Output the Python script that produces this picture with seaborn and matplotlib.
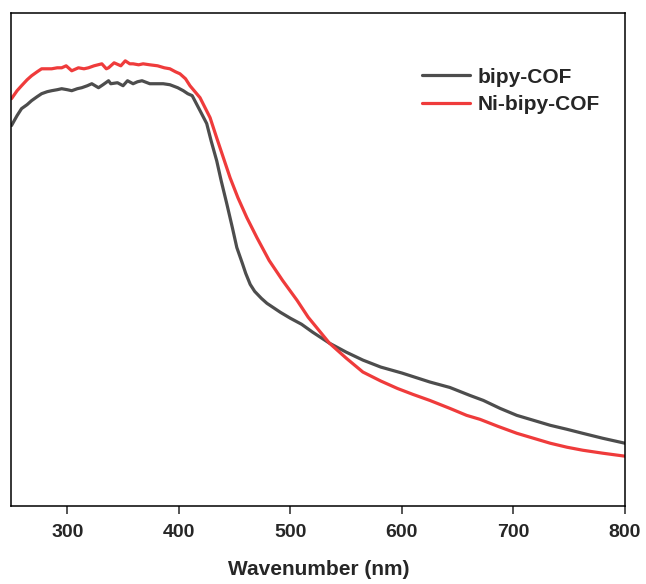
import numpy as np
import pandas as pd
import matplotlib
matplotlib.use("Agg")
import matplotlib.pyplot as plt
import seaborn as sns

# ---- data (arbitrary absorbance units) ----
bipy_x = [250, 255, 259, 264, 268, 273, 277, 282, 286, 291, 295, 300, 304, 309, 313,
          318, 322, 328, 332, 337, 339, 345, 350, 354, 359, 363, 367, 374, 380, 386,
          392, 399, 404, 408, 412, 419, 425, 429, 434, 438, 443, 448, 452, 457, 460,
          464, 468, 474, 479, 491, 500, 510, 520, 535, 550, 565, 581, 600, 625, 643,
          661, 673, 688, 703, 718, 733, 748, 762, 780, 800]
bipy_y = [0.774, 0.794, 0.808, 0.816, 0.824, 0.832, 0.838, 0.842, 0.844, 0.846, 0.848,
          0.846, 0.844, 0.848, 0.850, 0.854, 0.858, 0.850, 0.856, 0.864, 0.858, 0.860,
          0.854, 0.864, 0.858, 0.862, 0.864, 0.858, 0.858, 0.858, 0.856, 0.850, 0.844,
          0.838, 0.834, 0.804, 0.778, 0.743, 0.703, 0.663, 0.617, 0.569, 0.529, 0.497,
          0.477, 0.455, 0.441, 0.427, 0.417, 0.399, 0.387, 0.375, 0.359, 0.337, 0.319,
          0.303, 0.289, 0.277, 0.259, 0.248, 0.232, 0.222, 0.206, 0.192, 0.182, 0.172,
          0.164, 0.156, 0.146, 0.136]

ni_x = [250, 255, 259, 264, 268, 273, 277, 282, 286, 291, 295, 299, 304, 310, 315,
        319, 324, 331, 335, 337, 342, 348, 352, 356, 359, 364, 368, 374, 381, 387,
        392, 397, 401, 406, 410, 419, 428, 434, 440, 446, 453, 461, 470, 481, 493,
        506, 516, 535, 550, 565, 581, 596, 610, 625, 643,
        658, 670, 686, 703, 718, 733, 748, 762, 780, 800]
ni_y = [0.828, 0.844, 0.854, 0.866, 0.874, 0.882, 0.888, 0.888, 0.888, 0.890, 0.890,
        0.894, 0.884, 0.890, 0.888, 0.890, 0.894, 0.898, 0.888, 0.890, 0.900, 0.894,
        0.904, 0.898, 0.898, 0.896, 0.898, 0.896, 0.894, 0.890, 0.888, 0.882, 0.878,
        0.868, 0.854, 0.830, 0.790, 0.749, 0.709, 0.669, 0.629, 0.589, 0.549, 0.503,
        0.463, 0.423, 0.389, 0.337, 0.307, 0.279, 0.261, 0.246, 0.234, 0.222, 0.206,
        0.192, 0.184, 0.170, 0.156, 0.146, 0.136, 0.128, 0.122, 0.116, 0.110]

series_names = ["bipy-COF", "Ni-bipy-COF"]
series_colors = ["#4d4d4d", "#ef3b3b"]
x_ticks = [300, 400, 500, 600, 700, 800]
x_label = "Wavenumber (nm)"

df = pd.concat([
    pd.DataFrame({"x": bipy_x, "y": bipy_y, "sample": series_names[0]}),
    pd.DataFrame({"x": ni_x, "y": ni_y, "sample": series_names[1]}),
], ignore_index=True)

sns.set_style("ticks")
plt.rcParams["font.family"] = ["Liberation Sans", "DejaVu Sans"]
plt.rcParams["font.weight"] = "bold"

fig = plt.figure(figsize=(6.46, 5.84), dpi=100)
ax = fig.add_axes([0.0178, 0.1336, 0.9497, 0.8441])

sns.lineplot(data=df, x="x", y="y", hue="sample", hue_order=series_names,
             palette=series_colors, linewidth=2.3, sort=False, estimator=None,
             ax=ax)
for ln in ax.get_lines():
    ln.set_solid_joinstyle("round")
    ln.set_solid_capstyle("round")

ax.set_xlim(250, 800)
ax.set_ylim(0.010, 1.0)
ax.set_xticks(x_ticks)
ax.set_xticklabels([str(t) for t in x_ticks], fontsize=14, fontweight="bold")
ax.set_yticks([])
ax.set_ylabel("")
ax.set_xlabel(x_label, fontsize=15, fontweight="bold", labelpad=14)
ax.tick_params(axis="x", direction="out", length=6, width=1.1, pad=7)
for s in ax.spines.values():
    s.set_visible(True)
    s.set_linewidth(1.1)
    s.set_color("black")

leg = ax.legend(loc="upper left", bbox_to_anchor=(0.669, 0.889), frameon=False,
                borderaxespad=0, borderpad=0, handlelength=2.3, handletextpad=0.35,
                labelspacing=0.4, prop={"size": 15, "weight": "bold"})
for line in leg.get_lines():
    line.set_linewidth(2.3)

fig.savefig("out.png", dpi=100)
